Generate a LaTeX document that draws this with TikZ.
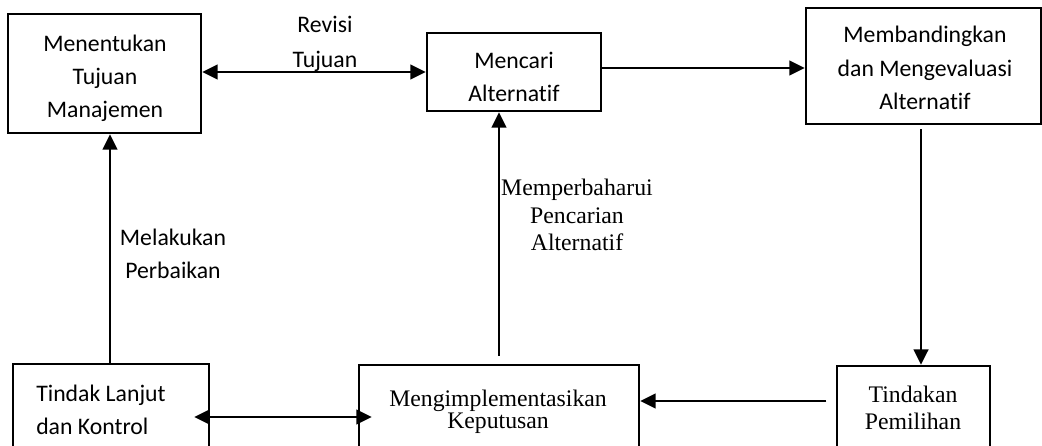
\documentclass[tikz,border=0pt]{standalone}
\usepackage{fontspec}
\newfontfamily\sansf[Ligatures=NoCommon]{Carlito}
\newfontfamily\seriff{Liberation Serif}
\usetikzlibrary{arrows.meta}
\begin{document}
\begin{tikzpicture}[x=0.75pt,y=-0.75pt,
  box/.style={draw, line width=1.8pt, inner sep=0pt},
  sanstxt/.style={inner sep=0pt, align=center, font={\sansf\fontsize{17.8}{24.75}\selectfont}},
  seriftxt/.style={inner sep=0pt, align=center, font={\seriff\fontsize{17.8}{19.5}\selectfont}},
  arr/.style={line width=1.6pt, -{Triangle[length=11.5pt,width=11pt]}},
  darr/.style={line width=1.6pt, {Triangle[length=11.5pt,width=11pt]}-{Triangle[length=11.5pt,width=11pt]}}
]
\useasboundingbox (0,0) rectangle (1042,446);
% boxes
\node[box, minimum width=193*0.75pt, minimum height=119*0.75pt] (b1) at (104.5,73.5) {};
\node[box, minimum width=174*0.75pt, minimum height=78*0.75pt] (b2) at (514,72) {};
\node[box, minimum width=235*0.75pt, minimum height=116*0.75pt] (b3) at (923.5,66) {};
\node[box, minimum width=196*0.75pt, minimum height=96*0.75pt] (b4) at (111,412) {};
\node[box, minimum width=280*0.75pt, minimum height=95*0.75pt] (b5) at (499,412.5) {};
\node[box, minimum width=153*0.75pt, minimum height=94*0.75pt] (b6) at (913.5,413) {};
% texts
\node[sanstxt] (t1) at (105,78) {Menentukan\\Tujuan\\Manajemen};
\node[sanstxt] (t2) at (514,77) {Mencari\\Alternatif};
\node[sanstxt, font={\sansf\fontsize{17.8}{25.1}\selectfont}] (t3) at (925,68) {Membandingkan\\dan Mengevaluasi\\Alternatif};
\node[sanstxt, font={\sansf\fontsize{17.8}{26.2}\selectfont}] (lr) at (325,44) {Revisi\\Tujuan};
\node[sanstxt] (lp) at (173,254) {Melakukan\\Perbaikan};
\node[seriftxt, font={\seriff\fontsize{17.8}{20.5}\selectfont}] (lm) at (577,215) {Memperbaharui\\Pencarian\\Alternatif};
\node[sanstxt, align=left, anchor=west] (t4) at (36,410) {Tindak Lanjut\\dan Kontrol};
\node[seriftxt, font={\seriff\fontsize{17.8}{16.5}\selectfont}] (t5) at (498,412) {Mengimplementasikan\\Keputusan};
\node[seriftxt, font={\seriff\fontsize{17.8}{20.25}\selectfont}] (t6) at (913,407.5) {Tindakan\\Pemilihan};
% helper coordinates
\coordinate (y1) at (0,72);
\coordinate (y2) at (0,68);
\coordinate (x3) at (921,0);
\coordinate (y4) at (0,401);
\coordinate (y5) at (0,417);
\coordinate (x6) at (110,0);
\coordinate (x7) at (499,0);
% connectors
\draw[darr] (b1.east |- y1) -- (b2.west |- y1);
\draw[arr] (b2.east |- y2) -- (b3.west |- y2);
\draw[arr] ([yshift=-3pt]b3.south -| x3) -- (b6.north -| x3);
\draw[arr] ([xshift=-7pt]b6.west |- y4) -- (b5.east |- y4);
\draw[darr, shorten <=-12pt, shorten >=-10.5pt] (b4.east |- y5) -- (b5.west |- y5);
\draw[arr] (b4.north -| x6) -- (b1.south -| x6);
\draw[arr] ([yshift=6pt]b5.north -| x7) -- (b2.south -| x7);
\end{tikzpicture}
\end{document}
